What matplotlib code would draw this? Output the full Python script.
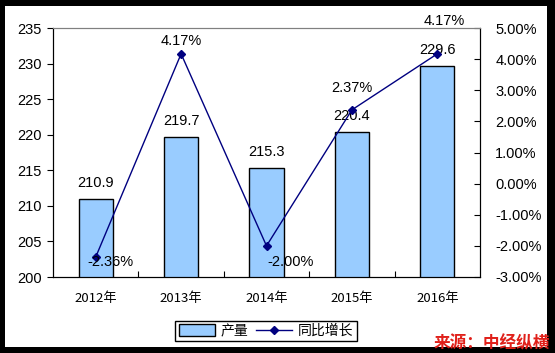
import numpy as np
import matplotlib
matplotlib.use("Agg")
import matplotlib.pyplot as plt
from matplotlib.patches import Rectangle
from matplotlib.lines import Line2D
from matplotlib.ticker import FuncFormatter

years = ["2012年", "2013年", "2014年", "2015年", "2016年"]
output = [210.9, 219.7, 215.3, 220.4, 229.6]
growth = [-2.36, 4.17, -2.00, 2.37, 4.17]

# label offsets for the growth labels (pixels)
growth_offsets = [(15, -5), (0, 13), (24, -16), (0, 22), (7, 33)]

plt.rcParams['font.family'] = ['Liberation Sans', 'Noto Sans CJK SC', 'DejaVu Sans']

fig = plt.figure(figsize=(5.55, 3.53), dpi=100, facecolor='black')
fig.patches.append(Rectangle((5 / 555, 6 / 353), 542 / 555, 341 / 353,
                             transform=fig.transFigure, facecolor='white',
                             edgecolor='none', zorder=-10))

ax = fig.add_axes([53 / 555, 1 - 277 / 353, 427 / 555, 249 / 353])
x = np.arange(len(years))
ax.bar(x, output, width=0.4, color='#99CCFF', edgecolor='black', linewidth=1, zorder=2)
ax.set_xlim(-0.5, 4.5)
ax.set_ylim(200, 235)
ax.set_yticks(np.arange(200, 236, 5))
ax.set_xticks(x)
ax.set_xticklabels(years, family=['Noto Sans CJK SC', 'DejaVu Sans'], fontsize=9.5)
ax.set_xticks(np.arange(0.5, 4, 1), minor=True)
ax.tick_params(axis='x', which='major', length=0, pad=11)
ax.tick_params(axis='x', which='minor', direction='in', length=4, width=0.8)
ax.tick_params(axis='y', direction='out', length=4, width=0.8, labelsize=10.5, pad=4)
for s in ['left', 'bottom', 'right']:
    ax.spines[s].set_color('black')
ax.spines['top'].set_color('#808080')

for xi, v in zip(x, output):
    ax.annotate(f"{v:.1f}", (xi, v), xytext=(0, 16), textcoords='offset pixels',
                ha='center', va='center', fontsize=10.5, zorder=5)

ax2 = ax.twinx()
ax2.plot(x, growth, color='#000080', linewidth=1, marker='D', markersize=4.5, zorder=3)
ax2.set_ylim(-3, 5)
ax2.set_yticks(np.arange(-3, 5.1, 1))
ax2.yaxis.set_major_formatter(FuncFormatter(lambda v, p: f"{v:.2f}%"))
ax2.tick_params(axis='y', direction='in', length=4, width=0.8, labelsize=10.5, pad=11)
ax2.spines['top'].set_color('#808080')
ax2.set_xlim(-0.5, 4.5)

for xi, g, off in zip(x, growth, growth_offsets):
    ax2.annotate(f"{g:.2f}%", (xi, g), xytext=off, textcoords='offset pixels',
                 ha='center', va='center', fontsize=10.5, annotation_clip=False)

handles = [Rectangle((0, 0), 1, 1, facecolor='#99CCFF', edgecolor='black', linewidth=1),
           Line2D([], [], color='#000080', linewidth=1, marker='D', markersize=4.5)]
leg = fig.legend(handles, ['产量', '同比增长'], loc='center', ncol=2,
                 bbox_to_anchor=(266 / 555, 1 - 331 / 353), frameon=True,
                 fancybox=False, edgecolor='black', framealpha=1,
                 prop={'family': ['Noto Sans CJK SC'], 'size': 10},
                 handlelength=2.6, handleheight=0.9, columnspacing=0.6,
                 handletextpad=0.4, borderpad=0.25, borderaxespad=0)
leg.get_frame().set_linewidth(1)

fig.text(550 / 555, 1 - 343 / 353, '来源：中经纵横', color='#E0201A', fontsize=12,
         fontweight='bold', family=['Noto Sans CJK SC'], ha='right', va='center')

fig.savefig('out.png', dpi=100, facecolor=fig.get_facecolor())
